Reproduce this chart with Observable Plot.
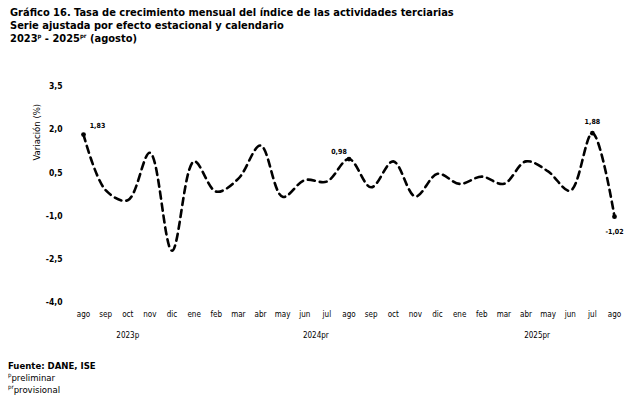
<!DOCTYPE html>
<html>
<head>
<meta charset="utf-8">
<script src="https://cdn.jsdelivr.net/npm/d3@7"></script>
<script src="https://cdn.jsdelivr.net/npm/@observablehq/plot@0.6"></script>
<style>
  html, body { margin: 0; padding: 0; background: #fff; }
  body { width: 632px; height: 415px; position: relative; overflow: hidden; font-family: "Liberation Sans Narrow", "DejaVu Sans Condensed", "Liberation Sans", sans-serif; color: #000; }
  #title { position: absolute; left: 10px; top: 6px; font-weight: bold; font-size: 11px; line-height: 13px; }
  #chart { position: absolute; left: 0; top: 48px; }
  #foot { position: absolute; left: 8px; top: 360px; font-size: 9.5px; line-height: 12px; }
  sup { font-size: 6px; vertical-align: 4px; line-height: 0; }
</style>
</head>
<body>
<div id="title">
  <div>Gráfico 16. Tasa de crecimiento mensual del índice de las actividades terciarias</div>
  <div>Serie ajustada por efecto estacional y calendario</div>
  <div>2023<sup>p</sup> - 2025<sup>pr</sup> (agosto)</div>
</div>
<div id="chart"></div>
<div id="foot">
  <div style="font-weight:bold">Fuente: DANE, ISE</div>
  <div><sup>p</sup>preliminar</div>
  <div><sup>pr</sup>provisional</div>
</div>
<script>
const months = ["ago","sep","oct","nov","dic","ene","feb","mar","abr","may","jun","jul",
                "ago","sep","oct","nov","dic","ene","feb","mar","abr","may","jun","jul","ago"];
const years = ["2023p","2023p","2023p","2023p","2023p",
               "2024pr","2024pr","2024pr","2024pr","2024pr","2024pr","2024pr","2024pr","2024pr","2024pr","2024pr","2024pr",
               "2025pr","2025pr","2025pr","2025pr","2025pr","2025pr","2025pr","2025pr"];
const values = [1.83, -0.10, -0.45, 1.20, -2.20, 0.90, -0.15, 0.30, 1.45, -0.33, 0.25, 0.20,
                0.98, 0.00, 0.90, -0.32, 0.47, 0.12, 0.37, 0.12, 0.90, 0.55, -0.12, 1.88, -1.02];
const yTicks = [-4.0, -2.5, -1.0, 0.5, 2.0, 3.5];
const labeledIdx = [0, 12, 23, 24];

const fmt = v => v.toFixed(2).replace(".", ",");
const data = values.map((v, i) => ({i, v, month: months[i], year: years[i]}));
const yearGroups = d3.groups(data, d => d.year).map(([year, rows]) => ({year, i: d3.mean(rows, r => r.i)}));
const labeled = data.filter(d => labeledIdx.includes(d.i));

const chart = Plot.plot({
  width: 632,
  height: 302,
  marginTop: 38,
  marginBottom: 48,
  marginLeft: 83,
  marginRight: 18,
  style: {fontFamily: "'Liberation Sans Narrow', 'DejaVu Sans Condensed', sans-serif", background: "#fff", color: "#000"},
  x: {type: "linear", domain: [0, 24], axis: null},
  y: {domain: [-4, 3.5], axis: null},
  marks: [
    Plot.axisY(yTicks, {tickSize: 0, tickPadding: 21, tickFormat: d => d.toFixed(1).replace(".", ","), fontSize: 8.5, fontWeight: "bold", label: null}),
    Plot.axisX(d3.range(0, 25), {tickSize: 0, tickPadding: 9, tickFormat: i => months[i], fontSize: 8, label: null}),
    Plot.text(yearGroups, {x: "i", text: "year", frameAnchor: "bottom", dy: 35, fontSize: 8}),
    Plot.text(["Variación (%)"], {frameAnchor: "top-left", dx: -50, dy: 74, rotate: -90, fontSize: 9.5}),
    Plot.line(data, {x: "i", y: "v", curve: "catmull-rom", stroke: "#000", strokeWidth: 2.6, strokeDasharray: "7,5"}),
    Plot.dot(labeled, {x: "i", y: "v", r: 2.4, fill: "#000"}),
    Plot.text(labeled.filter(d => d.i === 0), {x: "i", y: "v", text: d => fmt(d.v), dx: 14, dy: -9, fontSize: 7, fontWeight: "bold"}),
    Plot.text(labeled.filter(d => d.i === 12), {x: "i", y: "v", text: d => fmt(d.v), dx: -10, dy: -7, fontSize: 7, fontWeight: "bold"}),
    Plot.text(labeled.filter(d => d.i === 23), {x: "i", y: "v", text: d => fmt(d.v), dy: -11, fontSize: 7, fontWeight: "bold"}),
    Plot.text(labeled.filter(d => d.i === 24), {x: "i", y: "v", text: d => fmt(d.v), dy: 15, fontSize: 7, fontWeight: "bold"})
  ]
});
document.getElementById("chart").appendChild(chart);
</script>
</body>
</html>
